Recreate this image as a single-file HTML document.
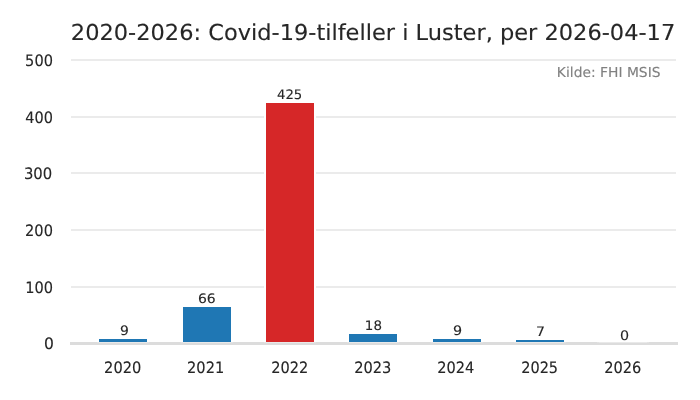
<!DOCTYPE html>
<html lang="no"><head><meta charset="utf-8"><title>Covid-19-tilfeller i Luster</title>
<style>html,body{margin:0;padding:0;background:#fff}body{width:700px;height:400px;overflow:hidden}svg{display:block}text{text-rendering:geometricPrecision}</style></head>
<body>
<svg width="700" height="400" viewBox="0 0 700 400" font-family="'DejaVu Sans', 'Liberation Sans', sans-serif">
<rect width="700" height="400" fill="#fff"/>
<g class="grid" fill="#ebebeb">
<rect x="71" y="286" width="605" height="2"/>
<rect x="71" y="229" width="605" height="2"/>
<rect x="71" y="172" width="605" height="2"/>
<rect x="71" y="116" width="605" height="2"/>
<rect x="71" y="59" width="605" height="2"/>
</g>
<g class="bars">
<rect x="97" y="337" width="52" height="5" fill="#fff"/>
<rect x="99" y="339" width="48" height="3" fill="#1f77b4"/>
<rect x="181" y="305" width="52" height="37" fill="#fff"/>
<rect x="183" y="307" width="48" height="35" fill="#1f77b4"/>
<rect x="264" y="101" width="52" height="241" fill="#fff"/>
<rect x="266" y="103" width="48" height="239" fill="#d62728"/>
<rect x="347" y="332" width="52" height="10" fill="#fff"/>
<rect x="349" y="334" width="48" height="8" fill="#1f77b4"/>
<rect x="431" y="337" width="52" height="5" fill="#fff"/>
<rect x="433" y="339" width="48" height="3" fill="#1f77b4"/>
<rect x="514" y="338" width="52" height="4" fill="#fff"/>
<rect x="516" y="340" width="48" height="2" fill="#1f77b4"/>
<rect x="597" y="340" width="52" height="2" fill="#fff"/>
</g>
<rect class="spine" x="70" y="342" width="608" height="3" fill="#dcdcdc"/>
<g class="spine-hi">
<rect x="97" y="342" width="52" height="1" fill="#e3e3e3"/>
<rect x="99" y="342" width="48" height="1" fill="#e9e9e9"/>
<rect x="181" y="342" width="52" height="1" fill="#e3e3e3"/>
<rect x="183" y="342" width="48" height="1" fill="#e9e9e9"/>
<rect x="264" y="342" width="52" height="1" fill="#e3e3e3"/>
<rect x="266" y="342" width="48" height="1" fill="#e9e9e9"/>
<rect x="347" y="342" width="52" height="1" fill="#e3e3e3"/>
<rect x="349" y="342" width="48" height="1" fill="#e9e9e9"/>
<rect x="431" y="342" width="52" height="1" fill="#e3e3e3"/>
<rect x="433" y="342" width="48" height="1" fill="#e9e9e9"/>
<rect x="514" y="342" width="52" height="1" fill="#e3e3e3"/>
<rect x="516" y="342" width="48" height="1" fill="#e9e9e9"/>
<rect x="597" y="342" width="52" height="1" fill="#e3e3e3"/>
<rect x="599" y="342" width="48" height="1" fill="#e9e9e9"/>
</g>
<g class="values">
<text transform="translate(119.98 335.00) scale(1.0634 1.0)" font-size="13.1" fill="#262626" stroke="#262626" stroke-width="0.12">9</text>
<text transform="translate(197.97 303.00) scale(1.0647 1.0)" font-size="13.1" fill="#262626" stroke="#262626" stroke-width="0.12">66</text>
<text transform="translate(277.02 99.00) scale(1.0085 1.0)" font-size="13.1" fill="#262626" stroke="#262626" stroke-width="0.12">425</text>
<text transform="translate(364.87 330.00) scale(1.0248 1.0)" font-size="13.1" fill="#262626" stroke="#262626" stroke-width="0.12">18</text>
<text transform="translate(452.95 335.00) scale(1.0938 1.0)" font-size="13.1" fill="#262626" stroke="#262626" stroke-width="0.12">9</text>
<text transform="translate(535.99 336.00) scale(1.0777 1.0)" font-size="13.1" fill="#262626" stroke="#262626" stroke-width="0.12">7</text>
<text transform="translate(619.92 340.00) scale(1.0884 1.0)" font-size="13.1" fill="#262626" stroke="#262626" stroke-width="0.12">0</text>
</g>
<g class="xticks">
<text transform="translate(104.09 373.00) scale(0.9946 1.07)" font-size="14.7" fill="#262626" stroke="#262626" stroke-width="0.12">2020</text>
<text transform="translate(187.09 373.00) scale(0.9936 1.07)" font-size="14.7" fill="#262626" stroke="#262626" stroke-width="0.12">2021</text>
<text transform="translate(271.19 373.00) scale(0.9910 1.07)" font-size="14.7" fill="#262626" stroke="#262626" stroke-width="0.12">2022</text>
<text transform="translate(354.19 373.00) scale(0.9941 1.07)" font-size="14.7" fill="#262626" stroke="#262626" stroke-width="0.12">2023</text>
<text transform="translate(437.19 373.00) scale(0.9905 1.07)" font-size="14.7" fill="#262626" stroke="#262626" stroke-width="0.12">2024</text>
<text transform="translate(521.20 373.00) scale(0.9859 1.07)" font-size="14.7" fill="#262626" stroke="#262626" stroke-width="0.12">2025</text>
<text transform="translate(604.19 373.00) scale(0.9936 1.07)" font-size="14.7" fill="#262626" stroke="#262626" stroke-width="0.12">2026</text>
</g>
<g class="yticks">
<text transform="translate(43.99 349.00) scale(1.0575 1.07)" font-size="14.7" fill="#262626" stroke="#262626" stroke-width="0.12">0</text>
<text transform="translate(25.15 293.00) scale(0.9914 1.07)" font-size="14.7" fill="#262626" stroke="#262626" stroke-width="0.12">100</text>
<text transform="translate(25.09 236.00) scale(0.9935 1.07)" font-size="14.7" fill="#262626" stroke="#262626" stroke-width="0.12">200</text>
<text transform="translate(23.89 179.00) scale(1.0103 1.07)" font-size="14.7" fill="#262626" stroke="#262626" stroke-width="0.12">300</text>
<text transform="translate(25.31 123.00) scale(0.9854 1.07)" font-size="14.7" fill="#262626" stroke="#262626" stroke-width="0.12">400</text>
<text transform="translate(25.12 66.00) scale(0.9925 1.07)" font-size="14.7" fill="#262626" stroke="#262626" stroke-width="0.12">500</text>
</g>
<text transform="translate(70.82 40.00) scale(1.0227 1.0)" font-size="22.0" fill="#262626" stroke="#262626" stroke-width="0.12">2020-2026: Covid-19-tilfeller i Luster, per 2026-04-17</text>
<text transform="translate(556.85 77.00) scale(1.0063 1.0)" font-size="13.77" fill="#808080" stroke="#808080" stroke-width="0.12">Kilde: FHI MSIS</text>
</svg>
</body></html>
